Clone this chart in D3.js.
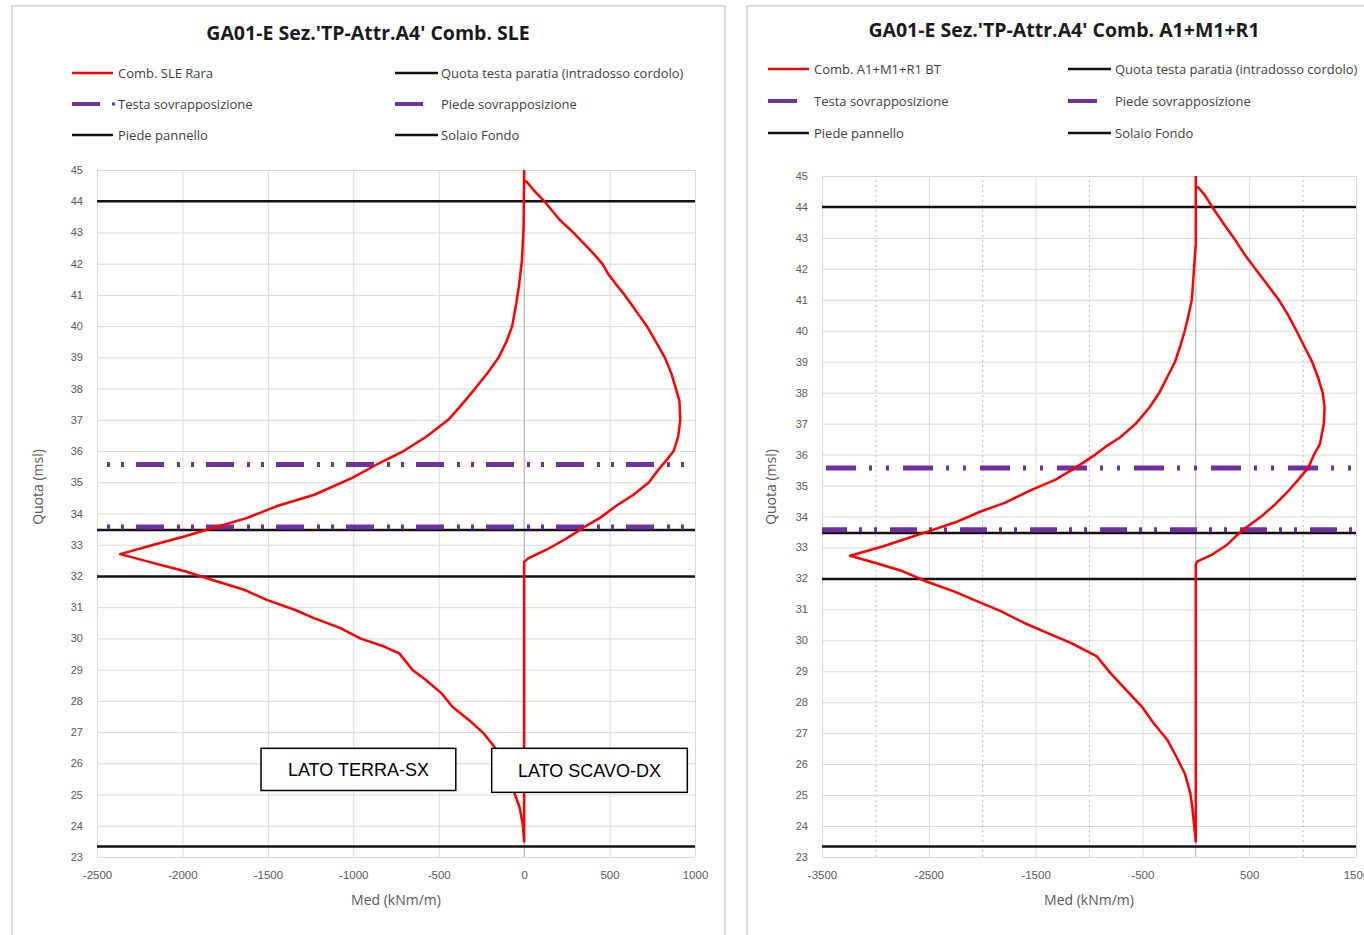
<!DOCTYPE html>
<html>
<head>
<meta charset="utf-8">
<script src="https://cdn.jsdelivr.net/npm/d3@7"></script>
<style>
  body { margin: 0; background: #fff; }
  svg { display: block; font-family: "Open Sans", sans-serif; }
</style>
</head>
<body>
<div id="chart"></div>
<script>
// ---- data ----
const quotaTicks = [23, 24, 25, 26, 27, 28, 29, 30, 31, 32, 33, 34, 35, 36, 37, 38, 39, 40, 41, 42, 43, 44, 45];
const sleTicks = [-2500, -2000, -1500, -1000, -500, 0, 500, 1000];
const a1Ticks = [-3500, -2500, -1500, -500, 500, 1500];
const a1MinorTicks = [-3000, -2000, -1000, 1000];

// Comb. SLE Rara - lower envelope (top -> bottom)
const sleMinQuota = [45, 43.2, 42.1, 41.26, 40.7, 40.0, 39.5, 39.0, 38.5, 38.0, 37.4, 37.0, 36.45, 36.0, 35.57, 35.14, 34.6, 34.23, 33.86, 33.57, 33.27, 33.0, 32.7, 32.41, 32.15, 31.88, 31.56, 31.24, 30.91, 30.65, 30.33, 30.0, 29.74, 29.52, 28.99, 28.67, 28.24, 27.81, 27.37, 26.95, 26.5, 25.87, 25.0, 24.6, 24.05, 23.5];
const sleMinMed   = [0, -3, -13, -31, -47, -70, -104, -149, -214, -287, -379, -444, -575, -705, -862, -1006, -1228, -1450, -1620, -1802, -1985, -2168, -2364, -2168, -1985, -1829, -1640, -1510, -1340, -1230, -1075, -960, -820, -731, -653, -575, -483, -420, -320, -235, -170, -108, -54, -27, -8, 0];
// Comb. SLE Rara - upper envelope (bottom -> top)
const sleMaxQuota = [23.5, 32.45, 32.57, 32.84, 33.16, 33.38, 33.57, 33.86, 34.23, 34.6, 35.0, 35.3, 35.79, 36.0, 36.45, 37.0, 37.6, 38.0, 38.48, 39.0, 39.5, 40.0, 40.4, 40.7, 41.0, 41.36, 41.68, 42.0, 42.33, 42.7, 43.0, 43.4, 44.0, 44.3, 44.63, 44.66, 45];
const sleMaxMed   = [0, 0, 26, 131, 235, 300, 353, 444, 535, 640, 731, 771, 845, 875, 901, 914, 909, 888, 862, 823, 771, 718, 666, 627, 588, 535, 491, 457, 405, 340, 287, 209, 118, 65, 13, 0, 0];

// Comb. A1+M1+R1 BT - lower envelope (top -> bottom)
const a1MinQuota = [45, 42.8, 41.94, 41.0, 40.43, 40.0, 39.46, 39.0, 38.5, 38.0, 37.53, 37.0, 36.56, 36.24, 36.0, 35.57, 35.19, 34.87, 34.44, 34.17, 33.84, 33.52, 33.25, 33.04, 32.73, 32.5, 32.23, 31.9, 31.58, 31.26, 30.94, 30.56, 30.23, 29.91, 29.48, 28.94, 28.4, 27.86, 27.33, 26.79, 26.32, 25.68, 25.07, 24.65, 24.0, 23.5];
const a1MinMed   = [0, 0, -18, -37, -73, -103, -150, -194, -268, -341, -433, -561, -707, -850, -940, -1129, -1312, -1532, -1789, -2009, -2229, -2504, -2742, -2925, -3237, -2998, -2742, -2522, -2265, -2045, -1826, -1606, -1386, -1166, -927, -799, -653, -506, -396, -268, -194, -101, -52, -34, -15, 0];
// Comb. A1+M1+R1 BT - upper envelope (bottom -> top)
const a1MaxQuota = [23.5, 32.45, 32.55, 32.77, 33.09, 33.36, 33.63, 34.0, 34.38, 34.76, 35.19, 35.57, 36.0, 36.34, 37.0, 37.53, 38.0, 38.5, 39.0, 39.5, 40.0, 40.48, 41.0, 41.5, 42.0, 42.42, 43.0, 43.44, 44.0, 44.4, 44.62, 44.68, 45];
const a1MaxMed   = [0, 0, 15, 154, 293, 374, 466, 612, 740, 850, 960, 1052, 1107, 1162, 1199, 1206, 1188, 1144, 1089, 1015, 942, 869, 777, 667, 557, 466, 356, 264, 154, 81, 26, 0, 0];

// reference levels (m slm)
const quotaTestaParatia = 44;
const testaSovrapposizione = 35.57;
const piedeSovrapposizione = 33.57;
const quotaScavo = 33.47;
const solaioFondo = 31.98;
const piedePannello = 23.34;

const legendLabels = ["Quota testa paratia (intradosso cordolo)", "Testa sovrapposizione", "Piede sovrapposizione", "Piede pannello", "Solaio Fondo"];

const W = 1364, H = 935;
const RED = "#ff0000", PURPLE = "#7030a0", BLACK = "#111";

const svg = d3.select("#chart").append("svg")
  .attr("width", W).attr("height", H)
  .attr("viewBox", `0 0 ${W} ${H}`);

const toPoints = (q, m) => q.map((v, i) => ({quota: v, med: m[i]}));

const panels = [
  {
    box: [12, 6, 713, 940],
    title: "GA01-E Sez.'TP-Attr.A4' Comb. SLE", titleX: 368, titleY: 40,
    seriesName: "Comb. SLE Rara",
    left: 97, right: 695, top: 170, bottom: 857,
    xDomain: [-2500, 1000], ticks: sleTicks, minor: [],
    envelope: toPoints(sleMinQuota, sleMinMed).concat(toPoints(sleMaxQuota, sleMaxMed)),
    legend: {c1: 72, c2: 395, t1: 118, t2: 441, rows: [73, 104, 135], dotAfter: true, purpleLen: 28},
    purpleDash: ["28,13,3,11,3,12", 31, "28,13,3,11,3,12", 31],
    labelYAxisX: 43,
    notes: [
      {text: "LATO TERRA-SX", x0: -1540, x1: -400, y0: 26.48, y1: 25.13},
      {text: "LATO SCAVO-DX", x0: -190, x1: 955, y0: 26.48, y1: 25.07}
    ]
  },
  {
    box: [747, 6, 640, 940],
    title: "GA01-E Sez.'TP-Attr.A4' Comb. A1+M1+R1", titleX: 1064, titleY: 37,
    seriesName: "Comb. A1+M1+R1 BT",
    left: 822, right: 1356, top: 176, bottom: 857,
    xDomain: [-3500, 1500], ticks: a1Ticks, minor: a1MinorTicks,
    envelope: toPoints(a1MinQuota, a1MinMed).concat(toPoints(a1MaxQuota, a1MaxMed)),
    legend: {c1: 768, c2: 1068, t1: 814, t2: 1115, rows: [69, 101, 133], dotAfter: false, purpleLen: 29},
    purpleDash: ["30,13,3,14,3,14", -4, "27,12,3,12,3,13", 2],
    labelYAxisX: 776,
    notes: []
  }
];

panels.forEach(drawPanel);

function drawPanel(p) {
  const g = svg.append("g");

  g.append("rect")
    .attr("x", p.box[0]).attr("y", p.box[1])
    .attr("width", p.box[2]).attr("height", p.box[3])
    .attr("fill", "#fff").attr("stroke", "#cfcfcf").attr("stroke-width", 1.5);

  const x = d3.scaleLinear().domain(p.xDomain).range([p.left, p.right]);
  const y = d3.scaleLinear().domain([23, 45]).range([p.bottom, p.top]);
  const plain = d => String(d);

  // horizontal gridlines
  g.append("g")
    .attr("transform", `translate(${p.left},0)`)
    .call(d3.axisLeft(y).tickValues(quotaTicks).tickSize(-(p.right - p.left)).tickFormat(""))
    .call(s => s.select(".domain").remove())
    .call(s => s.selectAll("line").attr("stroke", "#d9d9d9").attr("stroke-width", 1));

  // vertical gridlines
  g.append("g")
    .attr("transform", `translate(0,${p.bottom})`)
    .call(d3.axisBottom(x).tickValues(p.ticks).tickSize(-(p.bottom - p.top)).tickFormat(""))
    .call(s => s.select(".domain").remove())
    .call(s => s.selectAll("line").attr("stroke", "#d9d9d9").attr("stroke-width", 1));

  // dotted minor gridlines
  g.append("g")
    .attr("transform", `translate(0,${p.bottom})`)
    .call(d3.axisBottom(x).tickValues(p.minor).tickSize(-(p.bottom - p.top)).tickFormat(""))
    .call(s => s.select(".domain").remove())
    .call(s => s.selectAll("line").attr("stroke", "#bdbdbd").attr("stroke-dasharray", "2,3"));

  // value axis crossing at 0
  g.append("line")
    .attr("x1", x(0)).attr("x2", x(0))
    .attr("y1", y(45)).attr("y2", y(23))
    .attr("stroke", "#b5b5b5").attr("stroke-width", 1);

  // tick labels
  g.append("g")
    .attr("transform", `translate(${p.left},0)`)
    .call(d3.axisLeft(y).tickValues(quotaTicks).tickSize(0).tickPadding(14).tickFormat(plain))
    .call(s => s.select(".domain").remove())
    .call(s => s.selectAll("text").attr("fill", "#595959").style("font-size", "11px"));

  g.append("g")
    .attr("transform", `translate(0,${p.bottom})`)
    .call(d3.axisBottom(x).tickValues(p.ticks).tickSize(0).tickPadding(14).tickFormat(plain))
    .call(s => s.select(".domain").remove())
    .call(s => s.selectAll("text").attr("fill", "#595959").style("font-size", "11.5px"));

  // axis titles
  g.append("text")
    .attr("x", (p.left + p.right) / 2).attr("y", 905)
    .attr("text-anchor", "middle").attr("fill", "#595959")
    .style("font-size", "14px")
    .text("Med (kNm/m)");

  g.append("text")
    .attr("transform", `translate(${p.labelYAxisX},487) rotate(-90)`)
    .attr("text-anchor", "middle").attr("fill", "#595959")
    .style("font-size", "14px")
    .text("Quota (msl)");

  // title
  g.append("text")
    .attr("x", p.titleX).attr("y", p.titleY)
    .attr("text-anchor", "middle").attr("fill", "#1a1a1a")
    .style("font-size", "19.5px").style("font-weight", "bold")
    .text(p.title);

  // reference levels
  const hLine = d3.line().x(d => x(d.med)).y(d => y(d.quota));
  const level = q => [{quota: q, med: p.xDomain[0]}, {quota: q, med: p.xDomain[1]}];

  [quotaTestaParatia, quotaScavo, solaioFondo, piedePannello].forEach(q => {
    g.append("path").datum(level(q))
      .attr("d", hLine).attr("fill", "none")
      .attr("stroke", BLACK).attr("stroke-width", 2.5);
  });

  [[testaSovrapposizione, p.purpleDash[0], p.purpleDash[1]],
   [piedeSovrapposizione, p.purpleDash[2], p.purpleDash[3]]].forEach(([q, dash, off]) => {
    g.append("path").datum(level(q))
      .attr("d", hLine).attr("fill", "none")
      .attr("stroke", PURPLE).attr("stroke-width", 5)
      .attr("stroke-dasharray", dash).attr("stroke-dashoffset", off);
  });

  // moment envelope
  g.append("path").datum(p.envelope)
    .attr("d", hLine).attr("fill", "none")
    .attr("stroke", RED).attr("stroke-width", 2.5)
    .attr("stroke-linejoin", "round");

  // side notes
  p.notes.forEach(n => {
    g.append("rect")
      .attr("x", x(n.x0)).attr("y", y(n.y0))
      .attr("width", x(n.x1) - x(n.x0)).attr("height", y(n.y1) - y(n.y0))
      .attr("fill", "#fff").attr("stroke", "#000").attr("stroke-width", 1.5);
    g.append("text")
      .attr("x", (x(n.x0) + x(n.x1)) / 2).attr("y", (y(n.y0) + y(n.y1)) / 2 + 6.5)
      .attr("text-anchor", "middle").attr("fill", "#000")
      .style("font-family", "'Liberation Sans', Arial, sans-serif").style("font-size", "18px")
      .text(n.text);
  });

  // legend
  const L = p.legend;
  const items = [
    {label: p.seriesName, color: RED, col: 0, row: 0, len: 41, w: 2.5},
    {label: legendLabels[0], color: BLACK, col: 1, row: 0, len: 43, w: 2.5},
    {label: legendLabels[1], color: PURPLE, col: 0, row: 1, len: L.purpleLen, w: 4, dot: L.dotAfter},
    {label: legendLabels[2], color: PURPLE, col: 1, row: 1, len: L.purpleLen, w: 4},
    {label: legendLabels[3], color: BLACK, col: 0, row: 2, len: 41, w: 2.5},
    {label: legendLabels[4], color: BLACK, col: 1, row: 2, len: 43, w: 2.5}
  ];
  const lg = g.append("g");
  items.forEach(it => {
    const x0 = it.col ? L.c2 : L.c1;
    const yy = L.rows[it.row];
    lg.append("line")
      .attr("x1", x0).attr("x2", x0 + it.len)
      .attr("y1", yy).attr("y2", yy)
      .attr("stroke", it.color).attr("stroke-width", it.w);
    if (it.dot) {
      lg.append("rect")
        .attr("x", x0 + 40).attr("y", yy - 1.5)
        .attr("width", 3).attr("height", 3)
        .attr("fill", it.color);
    }
    lg.append("text")
      .attr("x", it.col ? L.t2 : L.t1).attr("y", yy + 4.5)
      .attr("fill", "#404040").style("font-size", "13px")
      .text(it.label);
  });
}
</script>
</body>
</html>
